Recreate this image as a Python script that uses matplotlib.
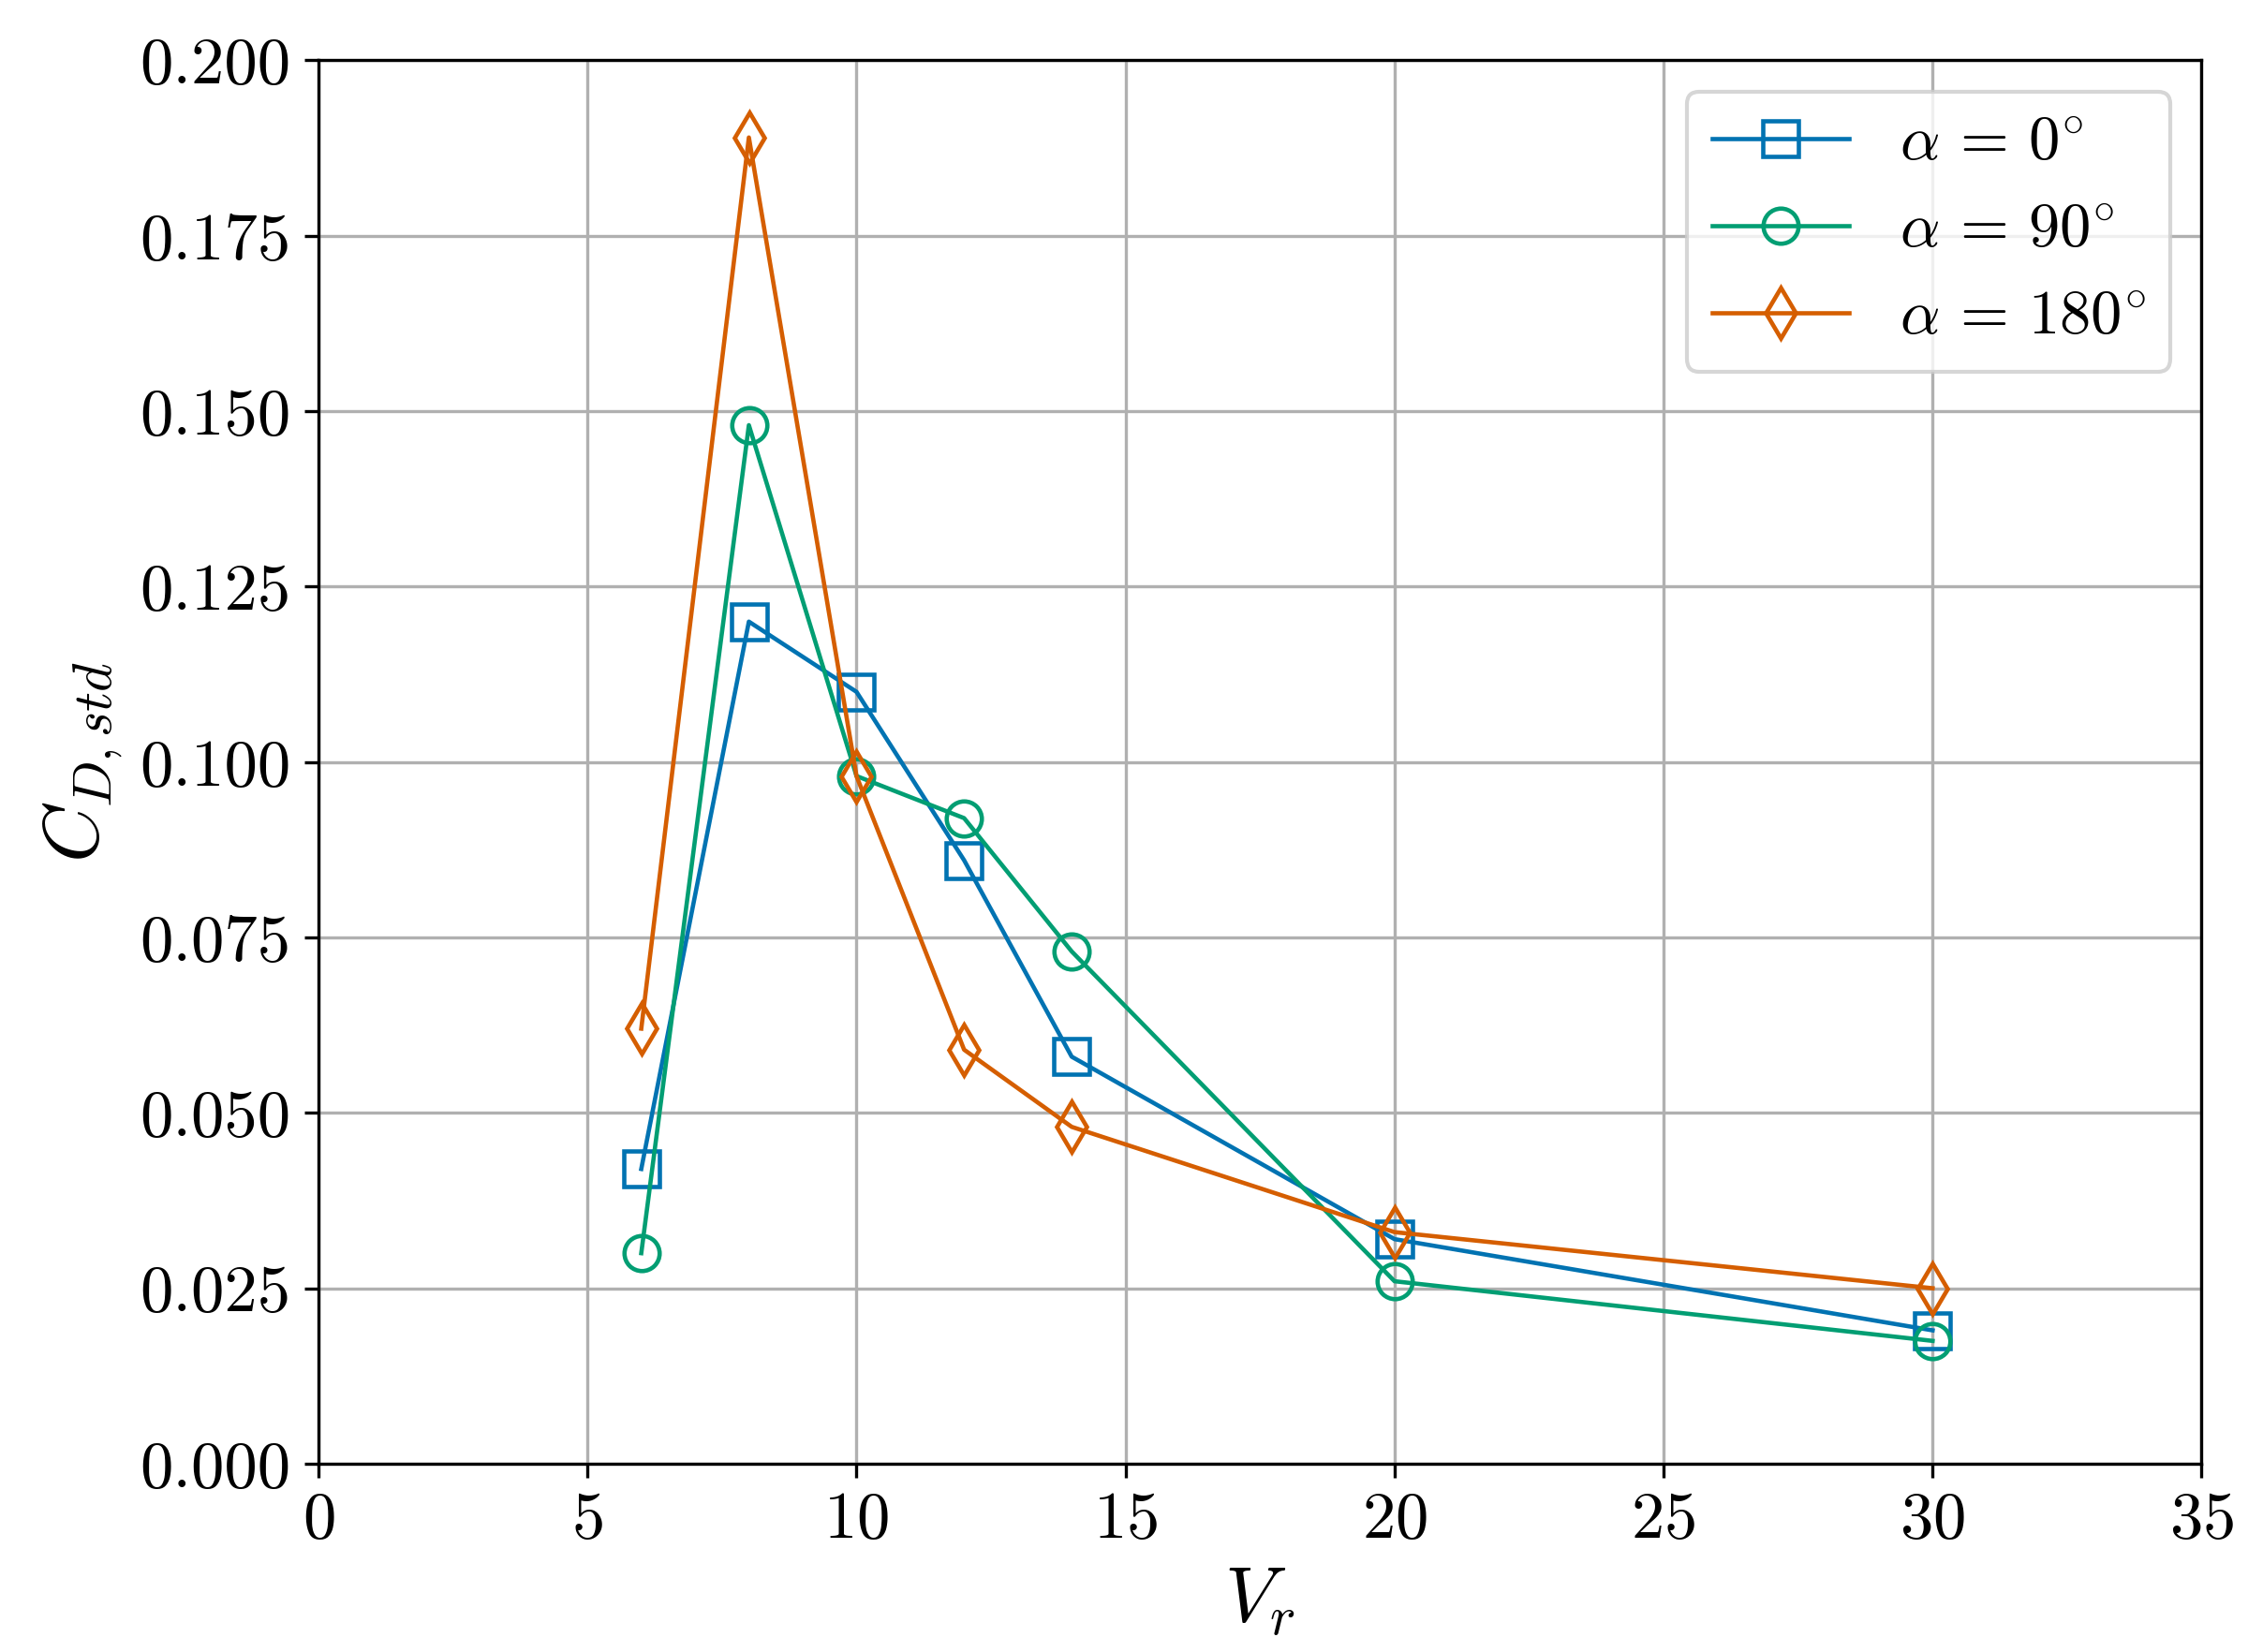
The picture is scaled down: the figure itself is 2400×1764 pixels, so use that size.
import matplotlib
matplotlib.use("Agg")
import matplotlib.pyplot as plt

plt.rcParams["font.family"] = "serif"
plt.rcParams["font.serif"] = ["cmr10"]
plt.rcParams["mathtext.fontset"] = "cm"
plt.rcParams["axes.formatter.use_mathtext"] = True

vr = [6, 8, 10, 12, 14, 20, 30]
cd_0 = [0.042, 0.120, 0.110, 0.086, 0.058, 0.032, 0.019]
cd_90 = [0.030, 0.148, 0.098, 0.092, 0.073, 0.026, 0.0175]
cd_180 = [0.062, 0.189, 0.098, 0.059, 0.048, 0.033, 0.025]

series = [
    (cd_0, "s", "#0173b2", r"$\alpha\,=\,0^{\circ}$"),
    (cd_90, "o", "#029e73", r"$\alpha\,=\,90^{\circ}$"),
    (cd_180, "d", "#d55e00", r"$\alpha\,=\,180^{\circ}$"),
]

fig = plt.figure(figsize=(8.003, 5.88), dpi=300)
ax = fig.add_axes([0.1416, 0.114, 0.8374, 0.8495])
for y, m, c, lab in series:
    ax.plot(vr, y, marker=m, color=c, label=lab, markerfacecolor="none",
            markersize=9, linewidth=1.1, markeredgewidth=1.1)

ax.set_xlim(0, 35)
ax.set_ylim(0, 0.2)
ax.set_xticks(range(0, 36, 5))
ax.set_yticks([i * 0.025 for i in range(9)])
ax.set_yticklabels([f"{i * 0.025:.3f}" for i in range(9)])
ax.grid(True, color="#b0b0b0", linewidth=0.8)
ax.tick_params(labelsize=17)
ax.set_xlabel(r"$V_r$", fontsize=20)
ax.set_ylabel(r"$C_{D,std}$", fontsize=20)
ax.legend(fontsize=16, loc="upper right", handlelength=2.2)
fig.savefig("out.png")
